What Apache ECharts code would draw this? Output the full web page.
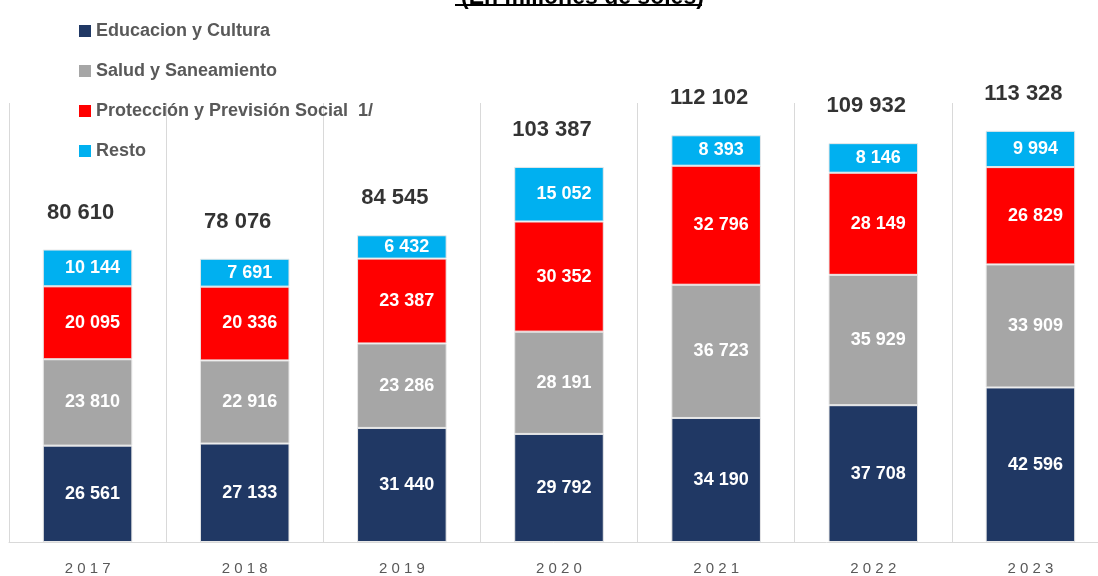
<!DOCTYPE html>
<html>
<head>
<meta charset="utf-8">
<script src="https://cdn.jsdelivr.net/npm/echarts@6/dist/echarts.min.js"></script>
<style>
  html, body { margin: 0; padding: 0; background: #fff; }
  #chart { width: 1098px; height: 576px; }
</style>
</head>
<body>
<div id="chart"></div>
<script>
// años
var years = ['2017', '2018', '2019', '2020', '2021', '2022', '2023'];
// millones de soles
var educacion = [26561, 27133, 31440, 29792, 34190, 37708, 42596];
var salud = [23810, 22916, 23286, 28191, 36723, 35929, 33909];
var proteccion = [20095, 20336, 23387, 30352, 32796, 28149, 26829];
var resto = [10144, 7691, 6432, 15052, 8393, 8146, 9994];
var totales = [80610, 78076, 84545, 103387, 112102, 109932, 113328];

var seriesNames = ['Educacion y Cultura', 'Salud y Saneamiento', 'Protección y Previsión Social  1/', 'Resto'];
var colors = ['#203864', '#A6A6A6', '#FF0000', '#00B0F0'];

function fmt(v) {
  return String(v).replace(/\B(?=(\d{3})+(?!\d))/g, ' ');
}

var myChart = echarts.init(document.getElementById('chart'));

function barSeries(name, data, color) {
  return {
    name: name,
    type: 'bar',
    stack: 'total',
    barWidth: '57%',
    data: data,
    itemStyle: { color: color, borderColor: '#e8e8e8', borderWidth: 1 },
    label: {
      show: true,
      position: 'inside',
      offset: [5, 0],
      color: '#fff',
      fontFamily: 'Liberation Sans',
      fontWeight: 'bold',
      fontSize: 18,
      formatter: function (p) { return fmt(p.value); }
    }
  };
}

var option = {
  animation: false,
  color: colors,
  title: {
    text: '(En millones de soles)',
    left: 456,
    top: -19,
    textStyle: { fontFamily: 'Liberation Sans', fontWeight: 'bold', fontSize: 23, color: '#000' }
  },
  graphic: [{
    type: 'line',
    shape: { x1: 455, y1: 5, x2: 702, y2: 5 },
    style: { stroke: '#000', lineWidth: 2 }
  }],
  legend: {
    orient: 'vertical',
    left: 74,
    top: 17,
    itemWidth: 12,
    itemHeight: 12,
    itemGap: 22,
    icon: 'rect',
    itemStyle: { borderWidth: 0 },
    textStyle: { fontFamily: 'Liberation Sans', fontWeight: 'bold', fontSize: 18, color: '#595959' },
    data: seriesNames
  },
  grid: {
    outerBoundsMode: 'none',
    left: 9,
    width: 1100,
    top: 103,
    bottom: 34
  },
  xAxis: {
    type: 'category',
    data: years,
    axisLine: { lineStyle: { color: '#d9d9d9' } },
    axisTick: { show: false },
    splitLine: { show: true, lineStyle: { color: '#d9d9d9' } },
    axisLabel: {
      margin: 19,
      color: '#595959',
      fontFamily: 'Liberation Sans',
      fontSize: 15,
      formatter: function (v) { return v.split('').join(' '); }
    }
  },
  yAxis: {
    type: 'value',
    min: 0,
    max: 121000,
    show: false,
    splitLine: { show: false }
  },
  series: [
    barSeries(seriesNames[0], educacion, colors[0]),
    barSeries(seriesNames[1], salud, colors[1]),
    barSeries(seriesNames[2], proteccion, colors[2]),
    barSeries(seriesNames[3], resto, colors[3]),
    {
      name: 'Total',
      type: 'scatter',
      data: totales,
      symbolSize: 0,
      silent: true,
      label: {
        show: true,
        position: 'top',
        distance: 26,
        offset: [-7, 0],
        color: '#000',
        fontFamily: 'Liberation Sans',
        fontWeight: 'bold',
        fontSize: 22,
        formatter: function (p) { return fmt(p.value); }
      }
    }
  ]
};
myChart.setOption(option);
</script>
</body>
</html>
